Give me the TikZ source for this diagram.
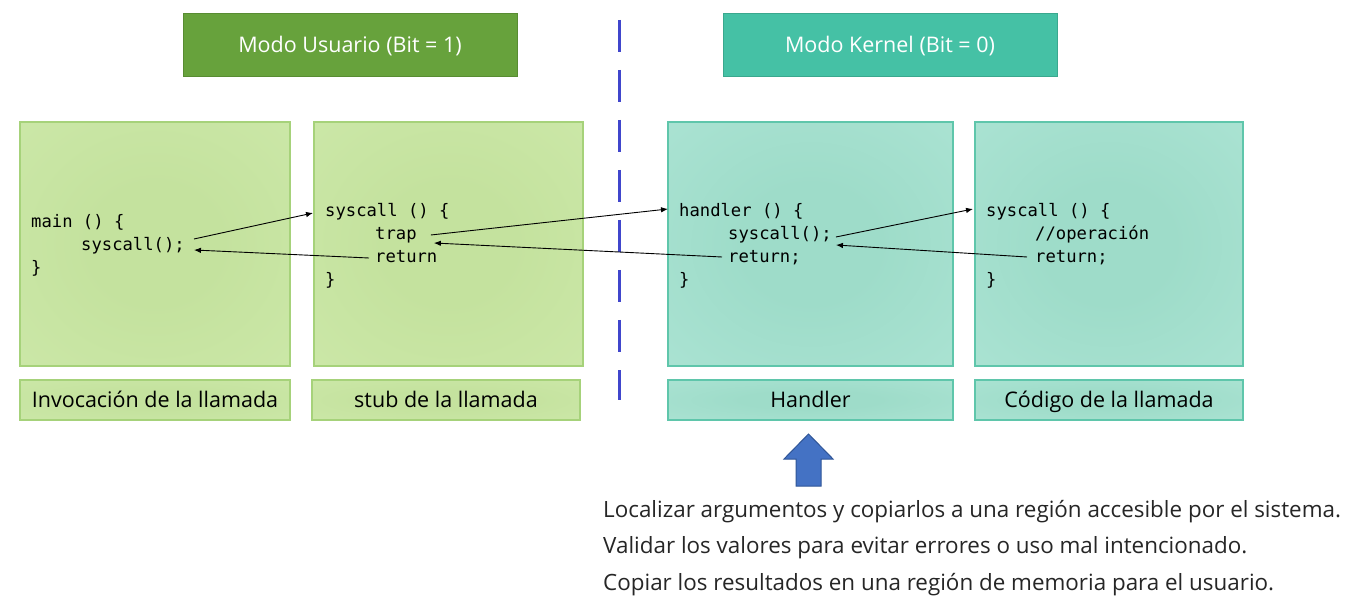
\documentclass[tikz,border=0pt]{standalone}
\usepackage{fontspec}
\setmainfont{Open Sans}
\newfontfamily\codefont{DejaVu Sans Mono}
\usetikzlibrary{arrows.meta,calc}
\definecolor{hdrU}{RGB}{103,162,60}
\definecolor{hdrUd}{RGB}{88,140,50}
\definecolor{hdrK}{RGB}{69,193,165}
\definecolor{hdrKd}{RGB}{58,168,142}
\definecolor{gOut}{RGB}{207,234,172}
\definecolor{gIn}{RGB}{196,226,158}
\definecolor{gLine}{RGB}{166,210,122}
\definecolor{tOut}{RGB}{176,230,215}
\definecolor{tIn}{RGB}{158,220,201}
\definecolor{tLine}{RGB}{95,198,171}
\definecolor{dashBlue}{RGB}{64,70,204}
\definecolor{blkFill}{RGB}{68,114,196}
\definecolor{blkLine}{RGB}{47,85,151}
\definecolor{txtGray}{RGB}{38,38,38}
\pgfdeclareradialshading{greensh}{\pgfpointorigin}{color(0bp)=(gIn); color(12bp)=(gIn); color(48bp)=(gOut); color(50bp)=(gOut)}
\pgfdeclareradialshading{tealsh}{\pgfpointorigin}{color(0bp)=(tIn); color(12bp)=(tIn); color(48bp)=(tOut); color(50bp)=(tOut)}
\tikzset{
  sans/.style={font=\fontsize{21.5}{26}\selectfont, text height=15.4pt, text depth=0pt},
  hdr/.style={sans, text=white, minimum width=334pt, minimum height=63pt, inner sep=0pt, line width=0.8pt},
  gbox/.style={draw=gLine, shading=greensh, line width=1.2pt, inner sep=0pt},
  tbox/.style={draw=tLine, shading=tealsh, line width=1.2pt, inner sep=0pt},
  glab/.style={draw=gLine, shading=greensh, line width=1.2pt, inner sep=0pt, minimum height=40pt, sans},
  tlab/.style={draw=tLine, shading=tealsh, line width=1.2pt, inner sep=0pt, minimum height=40pt, sans},
  code/.style={font=\codefont\fontsize{17.2}{23}\selectfont, inner sep=0pt, anchor=base west},
  arr/.style={line width=0.9pt, -{Latex[length=7pt,width=5.5pt]}},
  note/.style={font=\fontsize{22.4}{27}\selectfont, text=txtGray, inner sep=0pt, anchor=base west},
}
\begin{document}
\begin{tikzpicture}[x=1pt,y=-1pt]
\useasboundingbox[fill=white] (0,0) rectangle (1359,609);
% headers
\node[hdr, fill=hdrU, draw=hdrUd] (hu) at (350,44.5) {Modo Usuario (Bit = 1)};
\node[hdr, fill=hdrK, draw=hdrKd] (hk) at (890,44.5) {Modo Kernel (Bit = 0)};
% separator
\coordinate (sepT) at (619.5,20);
\coordinate (sepB) at (619.5,400);
\draw[dashBlue, line width=2.6pt, dash pattern=on 32pt off 18pt] (sepT) -- (sepB);
% big boxes
\node[gbox, minimum width=270pt, minimum height=244pt] (b1) at (155,244) {};
\node[gbox, minimum width=269pt, minimum height=244pt] (b2) at (448.5,244) {};
\node[tbox, minimum width=285pt, minimum height=244pt] (b3) at (810.5,244) {};
\node[tbox, minimum width=268pt, minimum height=244pt] (b4) at (1109,244) {};
% labels
\node[glab, minimum width=270pt] (l1) at (155,400) {Invocación de la llamada};
\node[glab, minimum width=268pt] (l2) at (446,400) {stub de la llamada};
\node[tlab, minimum width=285pt] (l3) at (810.5,400) {Handler};
\node[tlab, minimum width=268pt] (l4) at (1109,400) {Código de la llamada};
% code box 1
\node[code] (m1) at (31,228) {main () \{};
\node[code] (m2) at (81,251) {syscall();};
\node[code] (m3) at (31,274) {\}};
% code box 2
\node[code] (s1) at (325,217) {syscall () \{};
\node[code] (s2) at (375,240) {trap};
\node[code] (s3) at (375,263) {return};
\node[code] (s4) at (325,286) {\}};
% code box 3
\node[code] (h1) at (679,217) {handler () \{};
\node[code] (h2) at (728,240) {syscall();};
\node[code] (h3) at (728,263) {return;};
\node[code] (h4) at (679,286) {\}};
% code box 4
\node[code] (c1) at (986,217) {syscall () \{};
\node[code] (c2) at (1035,240) {//operación};
\node[code] (c3) at (1035,263) {return;};
\node[code] (c4) at (986,286) {\}};
% connectors
\draw[arr] ($(m2.base east)+(9,-12)$) -- ($(s1.base west)+(-12,-4)$);
\draw[arr] ($(s3.base west)+(-6,-5)$) -- ($(m2.base east)+(9,-1)$);
\draw[arr] ($(s2.base east)+(14,-5)$) -- ($(h1.base west)+(-11,-8)$);
\draw[arr] ($(h3.base west)+(-6,-6)$) -- ($(s2.base east)+(17,3)$);
\draw[arr] ($(h2.base east)+(4,-3)$) -- ($(c1.base west)+(-13,-8)$);
\draw[arr] ($(c3.base west)+(-8,-6)$) -- ($(h2.base east)+(4,5)$);
% block arrow
\draw[fill=blkFill, draw=blkLine, line width=1pt]
  (784,459) -- (808.5,434) -- (833,459) -- (821,459) -- (821,486) -- (796,486) -- (796,459) -- cycle;
% notes
\node[note] (n1) at (603,517) {Localizar argumentos y copiarlos a una región accesible por el sistema.};
\node[note] (n2) at (603,553.5) {Validar los valores para evitar errores o uso mal intencionado.};
\node[note] (n3) at (603,590) {Copiar los resultados en una región de memoria para el usuario.};
\end{tikzpicture}
\end{document}
